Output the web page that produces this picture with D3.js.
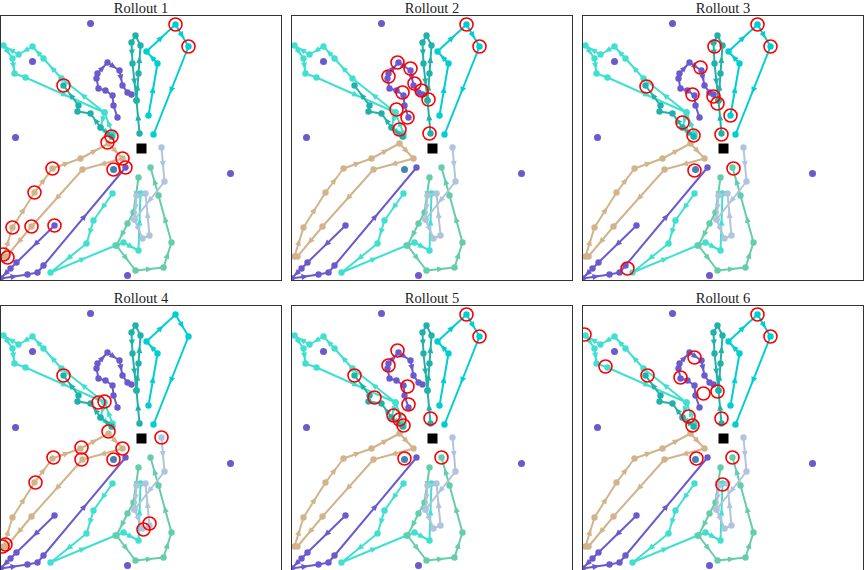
<!DOCTYPE html>
<html>
<head>
<meta charset="utf-8">
<script src="https://cdn.jsdelivr.net/npm/d3@7"></script>
<style>
  body { margin: 0; background: #fff; }
  svg { display: block; }
</style>
</head>
<body>
<div id="chart"></div>
<script>
// panel titles
const titles = ["Rollout 1", "Rollout 2", "Rollout 3", "Rollout 4", "Rollout 5", "Rollout 6"];

// trajectories (x, y) in plot units, same in every rollout
const trajTurqTop = [[112,147],[104,168],[61,202],[43,222],[32,234],[18,226],[3,235],[12,222],[14,207],[25,203],[104,168],[100,153],[112,144]];
const trajTealLeft = [[111,144],[100,153],[90,167],[77,169],[78,175],[63,195]];
const trajTealMid = [[139,147],[136,180],[138,207],[140,235],[135,245],[131,238],[132,217],[136,180]];
const trajPurpleTop = [[117,163],[113,175],[112,185],[105,190],[98,192],[96,202],[97,207],[107,218],[119,210],[122,195],[127,188],[131,186]];
const trajCyan = [[148,165],[157,217],[146,229],[175,256],[188,234],[153,146]];
const trajTan = [[3,24],[12,53],[34,88],[52,112],[80,122],[108,137],[122,122],[82,111],[31,54],[6,24]];
const trajPurpleLow = [[54,55],[16,18],[10,12],[0,2],[27,6],[37,8],[43,15],[125,113]];
const trajTurqLow = [[112,87],[93,60],[86,37],[50,8],[115,35],[123,38],[138,30],[140,87]];
const trajAqua = [[138,103],[133,68],[127,57],[116,35],[135,10],[163,13],[171,38],[158,85],[150,113]];
const trajSteel = [[161,133],[164,99],[134,61],[142,42],[149,45],[145,87],[136,85],[134,61]];

const trajectories = [trajTurqTop, trajTealLeft, trajTealMid, trajPurpleTop, trajCyan, trajTan, trajPurpleLow, trajTurqLow, trajAqua, trajSteel];
const trajColors = ["#40e0d0", "#20b2aa", "#20b2aa", "#6a5acd", "#00ced1", "#d2b48c", "#6a5acd", "#40e0d0", "#66cdaa", "#b0c4de"];

// fixed landmarks
const landmarks = [[90,257],[32,219],[15,143],[230,107],[127,5]];
const landmarkExtra = [[113,111]];
const goal = [141,132];

// red circles, one list per rollout
const marked = [
  [[175,256],[188,234],[63,195],[111,144],[107,138],[122,122],[113,111],[125,113],[52,112],[34,88],[12,53],[31,54],[54,55],[3,26],[7,23]],
  [[175,256],[188,234],[106,218],[119,212],[97,204],[111,188],[123,197],[130,190],[137,181],[105,171],[116,163],[108,151],[138,147]],
  [[175,256],[188,234],[132,234],[118,213],[64,194],[110,186],[131,184],[135,177],[100,158],[148,165],[111,145],[139,146],[112,110],[151,112],[45,12]],
  [[63,195],[98,168],[104,169],[108,139],[81,123],[81,111],[53,113],[35,88],[122,122],[113,111],[161,133],[149,47],[143,41],[5,26],[2,24]],
  [[175,256],[188,234],[106,220],[97,205],[63,195],[116,184],[83,173],[102,155],[108,151],[112,145],[139,152],[117,166],[113,112],[150,113]],
  [[175,256],[188,234],[2,236],[23,204],[65,195],[98,193],[112,213],[121,177],[135,179],[139,152],[106,154],[110,145],[114,112],[150,113],[140,86]]
];

// layout
const W = 864, H = 570;
const panelW = 281, panelH = 265;
const colX = [0.5, 291.5, 582.5];
const rowY = [15.5, 305.5];

const svg = d3.select("#chart").append("svg")
  .attr("width", W)
  .attr("height", H);

titles.forEach((title, i) => {
  const left = colX[i % 3], top = rowY[Math.floor(i / 3)];

  const x = d3.scaleLinear().domain([0, 281]).range([left, left + panelW]);
  const y = d3.scaleLinear().domain([0, 265]).range([top + panelH, top]);

  const g = svg.append("g");

  // clip so points at the edge stay inside the frame
  const clipId = "clip" + i;
  g.append("clipPath").attr("id", clipId)
    .append("rect")
    .attr("x", left).attr("y", top)
    .attr("width", panelW).attr("height", panelH);

  const plot = g.append("g").attr("clip-path", `url(#${clipId})`);

  const line = d3.line().x((d) => x(d[0])).y((d) => y(d[1]));

  trajectories.forEach((traj, k) => {
    const col = trajColors[k];
    plot.append("path")
      .datum(traj)
      .attr("d", line)
      .attr("fill", "none")
      .attr("stroke", col)
      .attr("stroke-width", 2)
      .attr("stroke-linejoin", "round");

    // arrow heads at segment midpoints
    d3.pairs(traj).forEach(([a, b]) => {
      const x0 = x(a[0]), y0 = y(a[1]), x1 = x(b[0]), y1 = y(b[1]);
      const len = Math.hypot(x1 - x0, y1 - y0);
      if (len < 14) return;
      const ang = Math.atan2(y1 - y0, x1 - x0) * 180 / Math.PI;
      plot.append("path")
        .attr("d", "M3.5,0 L-3.5,-3 L-3.5,3 Z")
        .attr("fill", col)
        .attr("transform", `translate(${(x0 + x1) / 2},${(y0 + y1) / 2}) rotate(${ang})`);
    });

    plot.selectAll(null)
      .data(traj)
      .join("circle")
      .attr("cx", (d) => x(d[0]))
      .attr("cy", (d) => y(d[1]))
      .attr("r", 3.2)
      .attr("fill", col);
  });

  // landmarks
  plot.selectAll(null)
    .data(landmarks)
    .join("circle")
    .attr("cx", (d) => x(d[0]))
    .attr("cy", (d) => y(d[1]))
    .attr("r", 3.5)
    .attr("fill", "#6a5acd");

  plot.selectAll(null)
    .data(landmarkExtra)
    .join("circle")
    .attr("cx", (d) => x(d[0]))
    .attr("cy", (d) => y(d[1]))
    .attr("r", 3.5)
    .attr("fill", "#4682b4");

  // goal square
  plot.append("rect")
    .attr("x", x(goal[0]) - 5)
    .attr("y", y(goal[1]) - 5)
    .attr("width", 10)
    .attr("height", 10)
    .attr("fill", "#000");

  // red circles for this rollout
  plot.selectAll(null)
    .data(marked[i])
    .join("circle")
    .attr("cx", (d) => x(d[0]))
    .attr("cy", (d) => y(d[1]))
    .attr("r", 6.5)
    .attr("fill", "none")
    .attr("stroke", "#ff0000")
    .attr("stroke-width", 1.6);

  // frame
  g.append("rect")
    .attr("x", left).attr("y", top)
    .attr("width", panelW).attr("height", panelH)
    .attr("fill", "none")
    .attr("stroke", "#333")
    .attr("stroke-width", 1);

  g.append("text")
    .attr("x", left + panelW / 2)
    .attr("y", top - 3)
    .attr("text-anchor", "middle")
    .attr("font-family", "'Liberation Serif', 'DejaVu Serif', serif")
    .attr("font-size", 14.5)
    .attr("fill", "#222")
    .text(title);
});
</script>
</body>
</html>
